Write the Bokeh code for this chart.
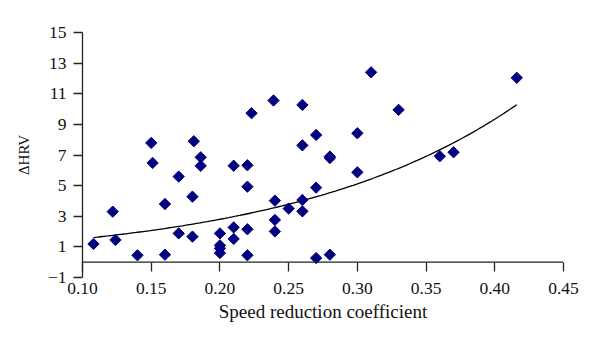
import numpy as np
from bokeh.plotting import figure
from bokeh.models import FixedTicker, NumeralTickFormatter, Range1d, Span
from bokeh.embed import file_html
from bokeh.resources import INLINE

speed = [0.108, 0.122, 0.124, 0.140, 0.150, 0.151, 0.160, 0.160, 0.170, 0.170,
         0.181, 0.180, 0.180, 0.186, 0.186, 0.200, 0.200, 0.200, 0.200, 0.210,
         0.210, 0.210, 0.220, 0.220, 0.220, 0.220, 0.223, 0.239, 0.240, 0.240,
         0.240, 0.250, 0.260, 0.260, 0.260, 0.260, 0.270, 0.270, 0.270, 0.280,
         0.280, 0.280, 0.300, 0.300, 0.310, 0.330, 0.360, 0.370, 0.416]
dhrv = [1.19, 3.30, 1.45, 0.45, 7.79, 6.48, 3.80, 0.49, 5.59, 1.88,
        7.90, 4.28, 1.67, 6.85, 6.29, 1.88, 1.10, 0.90, 0.60, 6.30,
        2.27, 1.52, 6.33, 4.93, 2.15, 0.45, 9.73, 10.56, 4.02, 2.76,
        2.01, 3.50, 10.27, 7.63, 4.06, 3.32, 8.31, 4.87, 0.27, 6.90,
        6.80, 0.49, 8.42, 5.87, 12.40, 9.95, 6.92, 7.18, 12.04]

x_ticks = [0.10, 0.15, 0.20, 0.25, 0.30, 0.35, 0.40, 0.45]
y_ticks = [-1, 1, 3, 5, 7, 9, 11, 13, 15]

FONT = "Liberation Serif"
AXIS_COLOR = "#222222"
TEXT_COLOR = "#111111"

p = figure(width=600, height=344, x_range=Range1d(0.10, 0.45), y_range=Range1d(-1, 15),
           output_backend="svg", toolbar_location=None,
           min_border_left=82, min_border_right=37, min_border_top=32, min_border_bottom=67)
p.grid.visible = False
p.outline_line_color = None
p.background_fill_color = "white"
p.border_fill_color = "white"

# horizontal axis line drawn at y = 0
p.add_layout(Span(location=0, dimension="width", line_color=AXIS_COLOR, line_width=1.3))

# exponential trend fitted to the data (log-linear least squares)
b, ln_a = np.polyfit(np.array(speed), np.log(np.array(dhrv)), 1)
xs = np.linspace(min(speed), max(speed), 120)
ys = np.exp(ln_a) * np.exp(b * xs)
p.line(xs, ys, line_color="black", line_width=1.3)

p.scatter(speed, dhrv, marker="square", angle=np.pi / 4, size=8,
          fill_color="#000080", line_color="#000080")

p.xaxis.ticker = FixedTicker(ticks=x_ticks)
p.xaxis.formatter = NumeralTickFormatter(format="0.00")
p.yaxis.ticker = FixedTicker(ticks=y_ticks)
p.yaxis.major_label_overrides = {-1: "\u22121"}

for ax in (p.xaxis[0], p.yaxis[0]):
    ax.minor_tick_line_color = None
    ax.axis_line_color = AXIS_COLOR
    ax.major_tick_line_color = AXIS_COLOR
    ax.axis_line_width = 1.3
    ax.major_tick_line_width = 1.3
    ax.major_label_text_font = FONT
    ax.major_label_text_font_size = "17.5px"
    ax.major_label_text_color = TEXT_COLOR
    ax.axis_label_text_font = FONT
    ax.axis_label_text_font_style = "normal"
    ax.axis_label_text_color = TEXT_COLOR

# x axis: ticks hang below the y = 0 line, labels sit below the frame
p.xaxis.axis_line_color = None
p.xaxis.major_tick_in = 15
p.xaxis.major_tick_out = -6
p.xaxis.major_label_standoff = 5
p.xaxis.axis_label = "Speed reduction coefficient"
p.xaxis.axis_label_text_font_size = "19px"
p.xaxis.axis_label_standoff = 4

p.yaxis.major_tick_in = 0
p.yaxis.major_tick_out = 9
p.yaxis.major_label_standoff = 7
p.yaxis.axis_label = "\u0394HRV"
p.yaxis.axis_label_text_font_size = "15px"
p.yaxis.axis_label_standoff = 13

open("out.html", "w").write(file_html(p, INLINE))
